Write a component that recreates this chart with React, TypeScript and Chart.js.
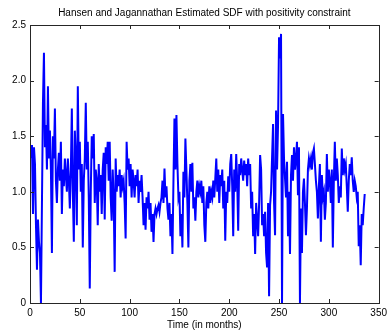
import React, { useEffect, useRef } from "react";
import { Chart, registerables } from "chart.js";

Chart.register(...registerables);

const TITLE = "Hansen and Jagannathan Estimated SDF with positivity constraint";
const X_LABEL = "Time (in months)";

const sdf: number[] = [
  1.30, 1.42, 0.80, 1.40, 1.25, 0.70, 0.30, 0.75, 0.55, 0.45,
  0.00, 0.90, 1.80, 2.25, 1.40, 1.60, 1.20, 1.95, 1.30, 1.55,
  1.20, 0.45, 1.50, 1.30, 1.75, 1.10, 0.90, 1.20, 1.35, 1.10,
  1.45, 0.80, 1.20, 1.05, 1.30, 1.15, 1.00, 1.30, 1.10, 0.85,
  1.20, 1.75, 1.00, 0.55, 1.55, 1.30, 0.70, 1.95, 1.20, 1.45,
  1.00, 1.25, 0.50, 1.10, 1.30, 1.80, 1.20, 1.45, 0.95, 0.13,
  1.00, 1.50, 1.30, 1.52, 0.90, 1.20, 1.10, 0.70, 1.25, 1.00,
  1.15, 0.80, 1.20, 1.35, 0.75, 1.40, 1.25, 1.45, 1.10, 1.45,
  0.95, 0.74, 1.20, 0.95, 0.28, 1.30, 1.00, 1.15, 1.05, 1.20,
  0.95, 1.15, 1.05, 1.10, 0.90, 0.58, 1.45, 1.20, 1.30, 1.05,
  1.25, 0.95, 1.20, 1.10, 0.95, 1.15, 1.05, 1.20, 0.90, 1.10,
  1.00, 1.15, 0.95, 0.70, 0.90, 0.66, 0.95, 0.85, 1.00, 0.75,
  0.90, 0.64, 0.80, 0.55, 0.80, 0.85, 0.80, 0.85, 0.88, 0.82,
  0.90, 0.95, 1.10, 0.90, 1.21, 0.95, 1.05, 0.85, 0.75, 0.90,
  0.60, 0.80, 0.44, 1.10, 1.66, 1.20, 1.69, 1.25, 0.95, 1.00,
  0.60, 0.80, 0.50, 1.18, 0.95, 1.48, 1.20, 0.90, 0.50, 1.10,
  1.25, 1.00, 1.26, 0.85, 0.95, 0.74, 1.00, 1.10, 0.95, 1.05,
  1.00, 1.10, 0.90, 1.05, 0.70, 0.55, 0.90, 1.00, 0.85, 1.05,
  0.90, 1.00, 0.95, 1.10, 0.95, 1.12, 1.30, 1.00, 1.20, 0.90,
  1.15, 1.05, 1.20, 0.85, 1.10, 0.56, 1.00, 0.90, 1.14, 1.00,
  1.25, 1.34, 1.05, 0.60, 1.20, 1.00, 1.34, 1.10, 0.65, 1.25,
  1.15, 1.30, 1.20, 1.10, 1.28, 1.15, 1.25, 1.05, 1.30, 1.15,
  1.25, 0.85, 1.00, 0.60, 0.80, 0.44, 0.90, 0.75, 0.60, 0.90,
  1.33, 1.20, 0.70, 0.80, 0.60, 0.82, 0.45, 0.32, 0.90, 0.06,
  0.88, 1.00, 1.31, 1.61, 0.90, 0.61, 1.73, 1.20, 1.60, 2.39,
  2.20, 2.42, 0.00, 1.70, 1.30, 1.12, 0.95, 1.27, 0.60, 1.00,
  0.44, 1.15, 1.33, 1.10, 1.40, 1.20, 1.30, 1.45, 0.97, 1.40,
  0.00, 0.85, 0.45, 1.00, 1.12, 0.90, 0.61, 0.85, 1.20, 1.30,
  1.24, 1.30, 1.20, 1.35, 1.39, 1.25, 1.10, 1.00, 0.76, 1.05,
  1.25, 0.55, 1.15, 0.95, 1.00, 0.75, 0.90, 1.34, 1.00, 1.20,
  1.10, 0.90, 1.20, 0.50, 1.10, 1.45, 1.10, 1.30, 1.15, 0.90,
  1.05, 0.95, 1.39, 1.15, 1.30, 1.20, 1.25, 1.05, 0.82, 1.10,
  1.25, 1.15, 1.31, 1.10, 1.00, 1.10, 1.05, 0.95, 1.00, 0.51,
  0.70, 0.34, 0.80, 0.70, 0.85, 0.98,
];

const months: number[] = sdf.map((_, i) => i + 1);

const X_MIN = 0;
const X_MAX = 350;
const X_STEP = 50;
const Y_MIN = 0;
const Y_MAX = 2.5;
const Y_STEP = 0.5;

const FONT = "'Liberation Sans', Arial, Helvetica, sans-serif";

const boxPlugin = {
  id: "matlabBox",
  afterDraw(chart: any) {
    const { ctx, chartArea, scales } = chart;
    const { left, right, top, bottom } = chartArea;
    const xs = scales.x;
    const ys = scales.y;
    const tl = 4;
    ctx.save();
    ctx.strokeStyle = "#262626";
    ctx.lineWidth = 1;
    ctx.strokeRect(Math.round(left) + 0.5, Math.round(top) + 0.5, Math.round(right - left), Math.round(bottom - top));
    ctx.beginPath();
    xs.ticks.forEach((t: any) => {
      const px = Math.round(xs.getPixelForValue(t.value)) + 0.5;
      ctx.moveTo(px, bottom);
      ctx.lineTo(px, bottom - tl);
      ctx.moveTo(px, top);
      ctx.lineTo(px, top + tl);
    });
    ys.ticks.forEach((t: any) => {
      const py = Math.round(ys.getPixelForValue(t.value)) + 0.5;
      ctx.moveTo(left, py);
      ctx.lineTo(left + tl, py);
      ctx.moveTo(right, py);
      ctx.lineTo(right - tl, py);
    });
    ctx.stroke();
    ctx.restore();
  },
};

export default function App() {
  const ref = useRef<HTMLCanvasElement | null>(null);

  useEffect(() => {
    if (!ref.current) return;
    const chart = new Chart(ref.current, {
      type: "line",
      data: {
        datasets: [
          {
            data: sdf.map((v, i) => ({ x: months[i], y: v })),
            borderColor: "#0000ff",
            borderWidth: 2,
            pointRadius: 0,
            tension: 0,
            fill: false,
          },
        ],
      },
      options: {
        animation: false,
        responsive: false,
        layout: { padding: { left: 0, right: 8, top: 0, bottom: 0 } },
        plugins: {
          legend: { display: false },
          tooltip: { enabled: false },
          title: {
            display: true,
            fullSize: false,
            text: TITLE,
            color: "#000",
            font: { family: FONT, size: 10, weight: "normal" },
            padding: { top: 7, bottom: 6 },
          },
        },
        scales: {
          x: {
            type: "linear",
            min: X_MIN,
            max: X_MAX,
            grid: { display: false, drawTicks: false },
            border: { display: false },
            ticks: {
              stepSize: X_STEP,
              color: "#000",
              padding: 4,
              maxRotation: 0,
              font: { family: FONT, size: 10 },
            },
            title: {
              display: true,
              text: X_LABEL,
              color: "#000",
              font: { family: FONT, size: 10 },
              padding: { top: 0, bottom: 0 },
            },
            afterFit(scale: any) {
              scale.height = 28;
            },
          },
          y: {
            type: "linear",
            min: Y_MIN,
            max: Y_MAX,
            grid: { display: false, drawTicks: false },
            border: { display: false },
            ticks: {
              stepSize: Y_STEP,
              color: "#000",
              padding: 4,
              font: { family: FONT, size: 10 },
            },
            afterFit(scale: any) {
              scale.width = 30;
            },
          },
        },
      },
      plugins: [boxPlugin],
    });
    return () => chart.destroy();
  }, []);

  return (
    <div style={{ position: "absolute", left: 0, top: 0, width: 391, height: 331, background: "#fff" }}>
      <canvas ref={ref} width={391} height={331} />
    </div>
  );
}
